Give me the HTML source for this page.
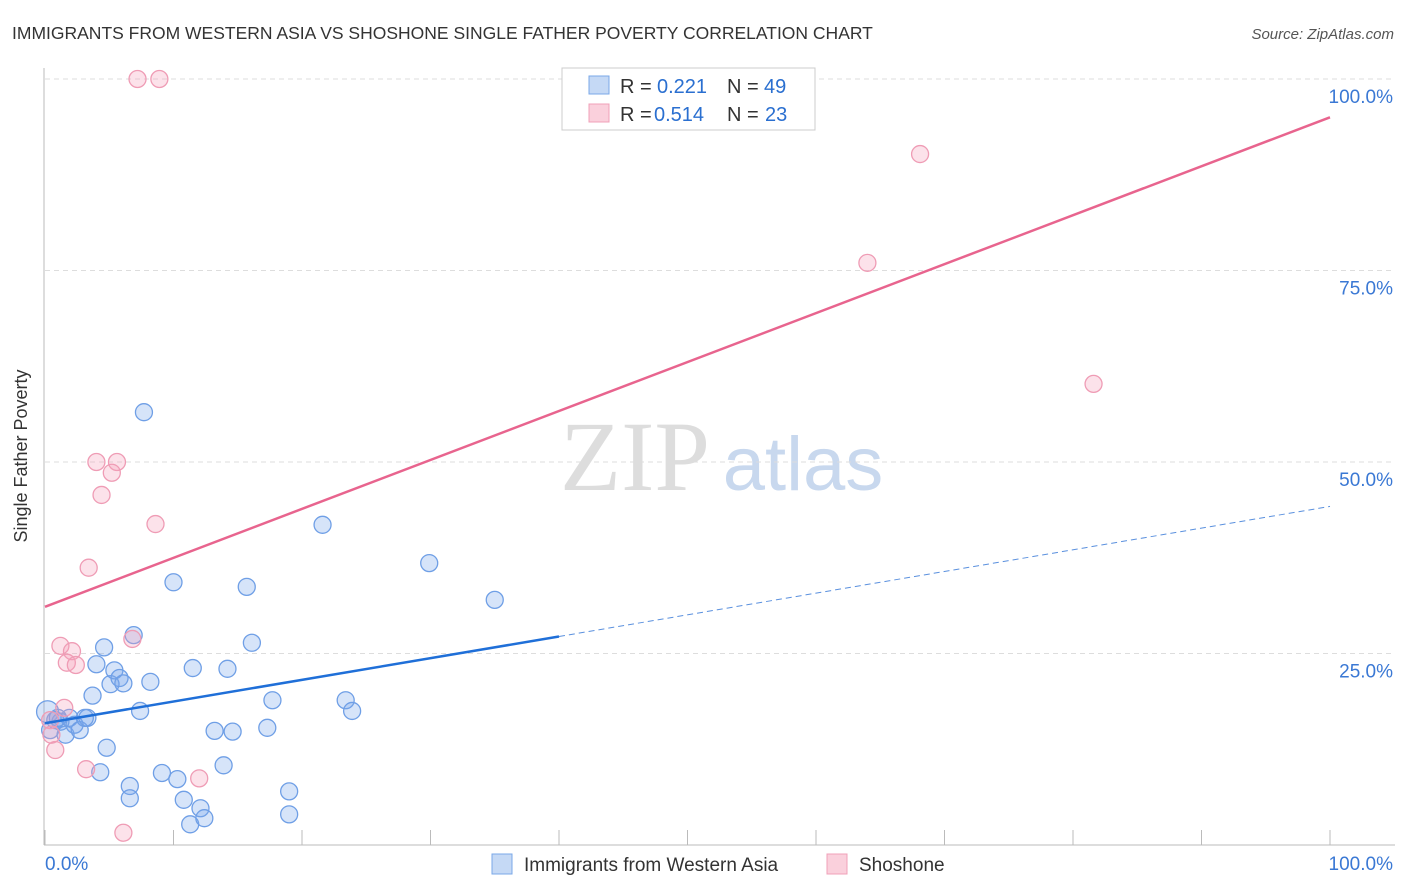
<!DOCTYPE html>
<html><head><meta charset="utf-8"><style>
body{margin:0;background:#fff;font-family:"Liberation Sans",sans-serif;}
svg{display:block}
</style></head><body>
<svg id="chart" width="1406" height="892">
<text x="12" y="39" font-size="17.5" fill="#333">IMMIGRANTS FROM WESTERN ASIA VS SHOSHONE SINGLE FATHER POVERTY CORRELATION CHART</text>
<text x="1394" y="39" font-size="15" fill="#555" font-style="italic" text-anchor="end">Source: ZipAtlas.com</text>
<text x="27" y="456" font-size="18" fill="#333" text-anchor="middle" transform="rotate(-90 27 456)">Single Father Poverty</text>
<g><text x="635" y="490" font-size="100" font-family="Liberation Serif,serif" fill="#ddd" text-anchor="middle">ZIP</text><text x="803" y="490" font-size="76" fill="#c8d8ee" text-anchor="middle">atlas</text></g>
<g id="grid"></g><g id="axes"></g><g id="marks"></g>
<g>
<rect x="562" y="68" width="253" height="62" fill="#fff" stroke="#ccc"/>
<rect x="589" y="76" width="20" height="18" fill="#c5d9f5" stroke="#7aa8e8"/>
<text x="620" y="93" font-size="20" fill="#333">R =</text>
<text x="657" y="93" font-size="20" fill="#2a6fd0">0.221</text>
<text x="727" y="93" font-size="20" fill="#333">N =</text>
<text x="764" y="93" font-size="20" fill="#2a6fd0">49</text>
<rect x="589" y="104" width="20" height="18" fill="#fad0dc" stroke="#f0a0b8"/>
<text x="620" y="121" font-size="20" fill="#333">R =</text>
<text x="654" y="121" font-size="20" fill="#2a6fd0">0.514</text>
<text x="727" y="121" font-size="20" fill="#333">N =</text>
<text x="765" y="121" font-size="20" fill="#2a6fd0">23</text>
</g>
<g>
<rect x="492" y="854" width="20" height="20" fill="#c5d9f5" stroke="#7aa8e8"/>
<text x="524" y="871" font-size="19" fill="#333">Immigrants from Western Asia</text>
<rect x="827" y="854" width="20" height="20" fill="#fad0dc" stroke="#f0a0b8"/>
<text x="859" y="871" font-size="19" fill="#333">Shoshone</text>
</g>
</svg>
<script>
const blueX=[0.2,0.8,1.2,1.6,1.9,2.3,2.7,3.3,3.7,4.0,4.3,4.6,4.8,5.1,5.4,5.8,6.1,6.6,6.6,6.9,7.4,7.7,8.2,9.1,10.0,10.3,10.8,11.3,11.5,12.1,12.4,13.2,13.9,14.2,14.6,15.7,16.1,17.3,17.7,19.0,19.0,21.6,23.4,23.9,29.9,35.0,0.4,1.0,3.1];
const blueY=[17.4,16.3,16.1,14.4,16.6,15.7,15.0,16.6,19.5,23.6,9.5,25.8,12.7,21.0,22.8,21.8,21.1,7.7,6.1,27.4,17.5,56.5,21.3,9.4,34.3,8.6,5.9,2.7,23.1,4.8,3.5,14.9,10.4,23.0,14.8,33.7,26.4,15.3,18.9,7.0,4.0,41.8,18.9,17.5,36.8,32.0,15.0,16.6,16.6];
const pinkX=[7.2,8.9,68.1,64.0,81.6,4.0,5.6,5.2,4.4,8.6,3.4,6.8,1.2,2.1,1.7,2.4,1.5,0.4,0.8,3.2,12.0,6.1,0.5];
const pinkY=[100,100,90.2,76.0,60.2,50.0,50.0,48.6,45.7,41.9,36.2,26.9,26.0,25.3,23.8,23.5,17.9,16.3,12.4,9.9,8.7,1.6,14.4];
const blueTrend=[15.9,44.2];
const pinkTrend=[31.1,95.0];
const yTicks=[25,50,75,100];
const yTickLabels=["25.0%","50.0%","75.0%","100.0%"];
const xTickLabels=["0.0%","100.0%"];
const NS="http://www.w3.org/2000/svg";
const sx=v=>45+v*12.85, sy=v=>845-v*7.66;
function mk(p,t,a){const e=document.createElementNS(NS,t);for(const k in a)e.setAttribute(k,a[k]);document.getElementById(p).appendChild(e);return e;}
yTicks.forEach((t,i)=>{
 const g=mk('grid','line',{x1:45,x2:1395,y1:sy(t),y2:sy(t),stroke:'#ddd','stroke-dasharray':'5,4'});
 
 
 const l=mk('axes','text',{x:1393,y:sy(t)+24,'font-size':19,fill:'#3a78d4','text-anchor':'end'});
 l.textContent=yTickLabels[i];
 
 
});
const ax=mk('axes','line',{x1:44,x2:44,y1:68,y2:845,stroke:'#bbb'});


const xa=mk('axes','line',{x1:44,x2:1395,y1:845,y2:845,stroke:'#bbb'});


for(let i=0;i<=10;i++){const t=mk('axes','line',{x1:sx(i*10),x2:sx(i*10),y1:830,y2:845,stroke:'#bbb'});
 
 }
[[0,'start',45],[1,'end',1393]].forEach(([i,a,x])=>{const l=mk('axes','text',{x:x,y:870,'font-size':19,fill:'#3a78d4','text-anchor':a});l.textContent=xTickLabels[i];
 
 });
blueX.forEach((x,i)=>{const c=mk('marks','circle',{cx:sx(x),cy:sy(blueY[i]),r:i==0?11:8.5,fill:'rgba(120,165,235,0.3)',stroke:'#6f9fe6','stroke-width':1.3});
 
 });
pinkX.forEach((x,i)=>{const c=mk('marks','circle',{cx:sx(x),cy:sy(pinkY[i]),r:8.5,fill:'rgba(245,160,185,0.3)',stroke:'#ef9cb5','stroke-width':1.3});
 
 });
const bAt=x=>blueTrend[0]+(blueTrend[1]-blueTrend[0])*x/100;
const b1=mk('marks','line',{x1:sx(0),y1:sy(bAt(0)),x2:sx(40),y2:sy(bAt(40)),stroke:'#1f6fd8','stroke-width':2.5});


const b2=mk('marks','line',{x1:sx(40),y1:sy(bAt(40)),x2:sx(100),y2:sy(bAt(100)),stroke:'#5a90de','stroke-width':1,'stroke-dasharray':'6,4'});


const p1=mk('marks','line',{x1:sx(0),y1:sy(pinkTrend[0]),x2:sx(100),y2:sy(pinkTrend[1]),stroke:'#e8648e','stroke-width':2.5});


</script>
</body></html>
